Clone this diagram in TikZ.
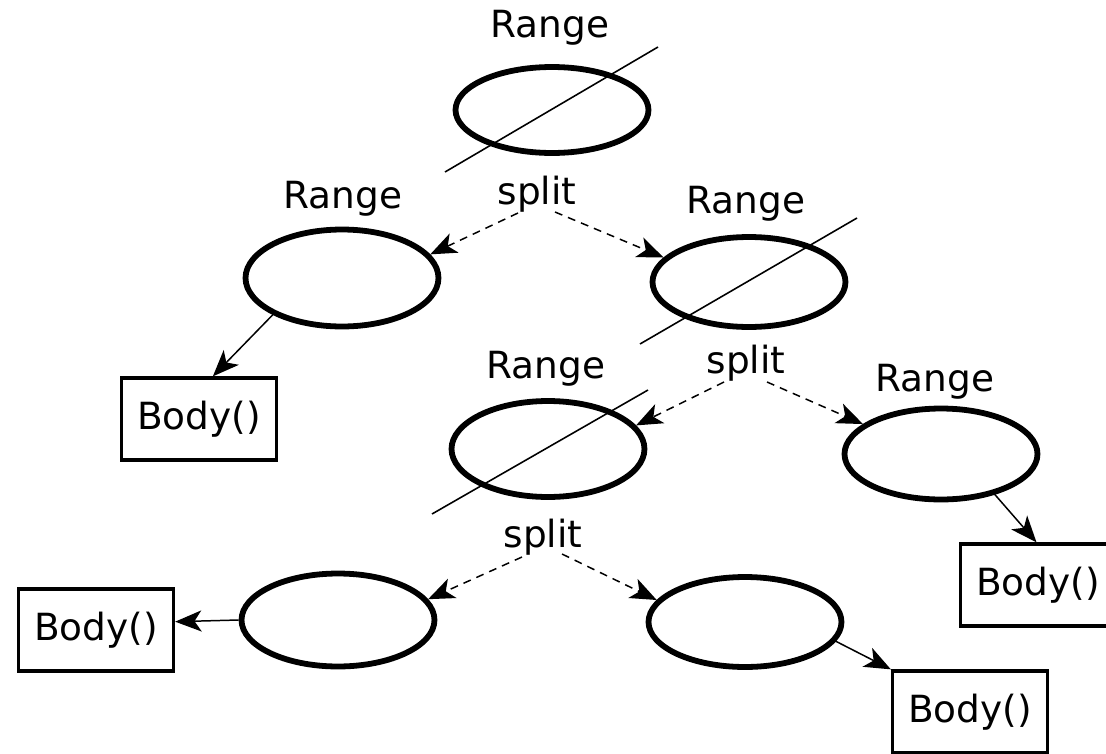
\documentclass[tikz,border=0pt]{standalone}
\usepackage{fontspec}
\setmainfont{DejaVu Sans}
\usetikzlibrary{shapes.geometric,arrows.meta,calc}
\begin{document}
\begin{tikzpicture}[x=0.02cm,y=-0.02cm,
  font=\fontsize{21.3}{25}\selectfont,
  rng/.style={draw,ellipse,line width=3.3pt,minimum width=3.86cm,minimum height=1.86cm,inner sep=0},
  bodybox/.style={draw,rectangle,line width=1.9pt,minimum width=3.1cm,minimum height=1.64cm,inner sep=0},
  lbl/.style={anchor=base,inner sep=0},
  solidarrow/.style={-{Stealth[length=15pt,width=12pt,inset=4pt]},line width=0.85pt},
  dasharrow/.style={solidarrow,dash pattern=on 4.5pt off 3.5pt},
  slash/.style={line width=0.9pt}]
\useasboundingbox (0,0) rectangle (1106,754);

% ranges
\node[rng,minimum height=1.72cm] (e1) at (552,110) {};
\node[rng,minimum height=1.94cm] (e2) at (342,278) {};
\node[rng,minimum height=1.8cm] (e3) at (749,282) {};
\node[rng,minimum height=1.92cm] (e4) at (548,449) {};
\node[rng,minimum height=1.82cm] (e5) at (941,454) {};
\node[rng,minimum height=1.86cm] (e6) at (338,620) {};
\node[rng,minimum height=1.8cm] (e7) at (745,622) {};

% labels
\node[lbl] (r1) at (550,37) {Range};
\node[lbl] (r2) at (343,208) {Range};
\node[lbl] (r3) at (746,213) {Range};
\node[lbl] (r4) at (546,378) {Range};
\node[lbl] (r5) at (935,391) {Range};
\node[lbl] (s1) at (537,204) {split};
\node[lbl] (s2) at (746,373) {split};
\node[lbl] (s3) at (543,547) {split};

% bodies
\node[bodybox] (b1) at (199,419) {Body()};
\node[bodybox] (b2) at (1038,585) {Body()};
\node[bodybox] (b3) at (96,630) {Body()};
\node[bodybox] (b4) at (970,712) {Body()};

% slash lines
\draw[slash] ([shift={(-107,62)}]e1.center) -- ([shift={(106,-63)}]e1.center);
\draw[slash] ([shift={(-109,62)}]e3.center) -- ([shift={(108,-64)}]e3.center);
\draw[slash] ([shift={(-116,65)}]e4.center) -- ([shift={(100,-59)}]e4.center);

% split arrows
\draw[dasharrow] ([shift={(-19,9)}]s1.base) -- (e2.15);
\draw[dasharrow] ([shift={(18,8)}]s1.base) -- (e3.164);
\draw[dasharrow] ([shift={(-22,9)}]s2.base) -- (e4.15);
\draw[dasharrow] ([shift={(21,9)}]s2.base) -- (e5.159);
\draw[dasharrow] ([shift={(-21,10)}]s3.base) -- (e6.13);
\draw[dasharrow] ([shift={(19,7)}]s3.base) -- (e7.166);

% body arrows
\draw[solidarrow] (e2.208) -- (b1.72);
\draw[solidarrow] (e5.-37) -- (b2.92);
\draw[solidarrow] (e6.west) -- (b3.6);
\draw[solidarrow] (e7.-12) -- (b4.north west);
\end{tikzpicture}
\end{document}
